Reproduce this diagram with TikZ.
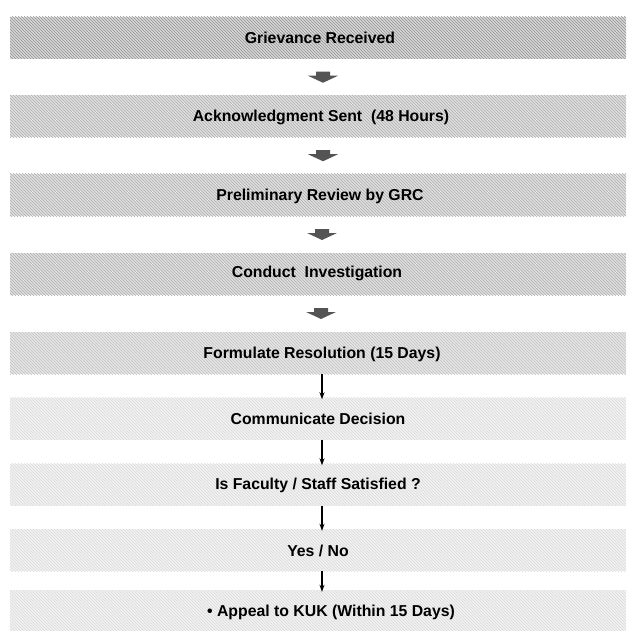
\documentclass[tikz,border=0pt]{standalone}
\usepackage{fontspec}
\setmainfont{Liberation Sans}
\usetikzlibrary{calc,arrows.meta,patterns}
\definecolor{boxA}{gray}{0.84}
\definecolor{boxB}{gray}{0.88}
\definecolor{boxC}{gray}{0.90}
\definecolor{boxD}{gray}{0.945}
\definecolor{hatchA}{gray}{0.58}
\definecolor{hatchB}{gray}{0.68}
\definecolor{hatchC}{gray}{0.76}
\definecolor{hatchD}{gray}{0.86}
\definecolor{arrowgray}{gray}{0.33}
\tikzset{
  stage/.style={rectangle, minimum width=616, minimum height=42, inner sep=0pt,
    font=\bfseries\fontsize{15.8}{18}\selectfont, text=black},
  shadeA/.style={fill=boxA, postaction={pattern=north west lines, pattern color=hatchA}},
  shadeB/.style={fill=boxB, postaction={pattern=north west lines, pattern color=hatchB}},
  shadeC/.style={fill=boxC, postaction={pattern=north west lines, pattern color=hatchC}},
  shadeD/.style={fill=boxD, postaction={pattern=north west lines, pattern color=hatchD}},
  thinarrow/.style={-{Stealth[length=7pt,width=5pt]}, line width=1.1pt, black},
  bigarrow/.pic={\fill[arrowgray] (-7,-5.5) -- (7,-5.5) -- (7,-1.5) -- (15,-1.5) -- (0,5.5) -- (-15,-1.5) -- (-7,-1.5) -- cycle;}
}
\begin{document}
\begin{tikzpicture}[x=1pt,y=-1pt]
\useasboundingbox (0,0) rectangle (626,631);
\node[stage, shadeA] (b1) at (318,38) {};
\node[stage, shadeB] (b2) at (318,116.5) {};
\node[stage, shadeB] (b3) at (318,195) {};
\node[stage, shadeB] (b4) at (318,274) {};
\node[stage, shadeC] (b5) at (318,353) {};
\node[stage, shadeD] (b6) at (318,418.5) {};
\node[stage, shadeD] (b7) at (318,484.5) {};
\node[stage, shadeD] (b8) at (318,550) {};
\node[stage, shadeD] (b9) at (318,611) {};
\node[stage] (t1) at (320,38) {Grievance Received};
\node[stage] (t2) at (321,117) {Acknowledgment Sent\ \ (48 Hours)};
\node[stage] (t3) at (320,196) {Preliminary Review by GRC};
\node[stage] (t4) at (317,273) {Conduct\ \ Investigation};
\node[stage] (t5) at (322,354) {Formulate Resolution (15 Days)};
\node[stage] (t6) at (318,419) {Communicate Decision};
\node[stage] (t7) at (318,485) {Is Faculty / Staff Satisfied ?};
\node[stage] (t8) at (318,551) {Yes / No};
\node[stage] (t9) at (331,612) {• Appeal to KUK (Within 15 Days)};
\path ($(b1.south)!0.5!(b2.north)+(5,0)$) pic {bigarrow};
\path ($(b2.south)!0.5!(b3.north)+(5,0)$) pic {bigarrow};
\path ($(b3.south)!0.5!(b4.north)+(4,0)$) pic {bigarrow};
\path ($(b4.south)!0.5!(b5.north)+(3,0)$) pic {bigarrow};
\draw[thinarrow] ([xshift=4pt]b5.south) -- ([xshift=4pt,yshift=-2pt]b6.north);
\draw[thinarrow] ([xshift=4pt]b6.south) -- ([xshift=4pt,yshift=-2pt]b7.north);
\draw[thinarrow] ([xshift=4pt]b7.south) -- ([xshift=4pt,yshift=-2pt]b8.north);
\draw[thinarrow] ([xshift=4pt]b8.south) -- ([xshift=4pt,yshift=-2pt]b9.north);
\end{tikzpicture}
\end{document}
